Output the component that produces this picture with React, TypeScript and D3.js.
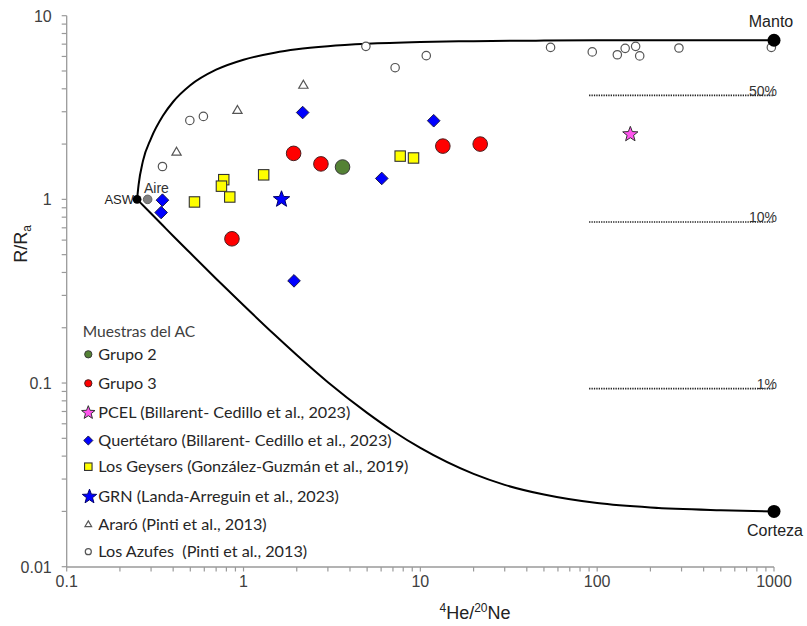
import React from "react";
import * as d3 from "d3";

// Sample groups: [4He/20Ne, R/Ra]
const grupo2: [number, number][] = [[3.63, 1.5]];
const grupo3: [number, number][] = [
  [1.92, 1.78], [2.74, 1.56], [13.4, 1.95], [21.8, 2.0], [0.86, 0.61],
];
const pcel: [number, number][] = [[154, 2.26]];
const queretaro: [number, number][] = [
  [0.348, 0.99], [0.342, 0.848], [2.16, 2.97], [11.9, 2.68], [6.05, 1.3], [1.93, 0.36],
];
const geysers: [number, number][] = [
  [0.528, 0.968], [0.773, 1.28], [0.75, 1.18], [0.836, 1.03], [1.3, 1.36], [7.69, 1.72], [9.15, 1.68],
];
const grn: [number, number][] = [[1.64, 1.0]];
const araro: [number, number][] = [[0.418, 1.82], [0.924, 3.07], [2.18, 4.21]];
const azufes: [number, number][] = [
  [0.348, 1.51], [0.497, 2.69], [0.593, 2.83], [4.92, 6.81], [7.2, 5.21], [10.8, 6.06],
  [54.5, 6.72], [93.8, 6.35], [130, 6.13], [144, 6.64], [165, 6.81], [174, 6.04],
  [290, 6.67], [966, 6.72],
];

// End members
const asw: [number, number] = [0.25, 1.0];
const aire: [number, number] = [0.287, 1.0];
const manto: [number, number] = [1000, 7.35];
const corteza: [number, number] = [1000, 0.02];

// Mixing curves ASW–Manto and ASW–Corteza
const upperCurveX = [0.25, 0.255, 0.27, 0.3, 0.35, 0.4, 0.5, 0.7, 1, 1.5, 2, 3, 5, 10, 20, 50, 100, 1000];
const upperCurveR = [1.0, 1.2, 1.62, 2.15, 2.85, 3.4, 4.18, 5.08, 5.76, 6.29, 6.56, 6.82, 7.03, 7.19, 7.27, 7.32, 7.34, 7.35];
const lowerCurveX = [0.25, 0.3, 0.35, 0.4, 0.5, 0.7, 1, 1.5, 2, 3, 5, 7, 10, 20, 30, 50, 100, 200, 500, 1000];
const lowerCurveR = [1.0, 0.837, 0.72, 0.632, 0.51, 0.37, 0.265, 0.183, 0.142, 0.101, 0.0688, 0.0548, 0.0443, 0.032, 0.0279, 0.0247, 0.0222, 0.021, 0.0203, 0.02];

// Mantle-fraction reference lines
const pctLabels = ["50%", "10%", "1%"];
const pctValues = [3.68, 0.753, 0.0933];
const pctStartX = 90;
const pctEndX = 1000;

// Axes
const xTickValues = [0.1, 1, 10, 100, 1000];
const xTickLabels = ["0.1", "1", "10", "100", "1000"];
const yTickValues = [0.01, 0.1, 1, 10];
const yTickLabels = ["0.01", "0.1", "1", "10"];

const legendTitle = "Muestras del AC";
const legendLabels = [
  "Grupo 2",
  "Grupo 3",
  "PCEL (Billarent- Cedillo et al., 2023)",
  "Quertétaro (Billarent- Cedillo et al., 2023)",
  "Los Geysers (González-Guzmán et al., 2019)",
  "GRN (Landa-Arreguin et al., 2023)",
  "Araró (Pinti et al., 2013)",
  "Los Azufes  (Pinti et al., 2013)",
];
const legendKinds = ["g2", "g3", "pcel", "diam", "sq", "grn", "tri", "circ"];

const W = 807;
const H = 626;

function starPath(cx: number, cy: number, R: number, r: number) {
  const pts: string[] = [];
  for (let i = 0; i < 10; i++) {
    const a = -Math.PI / 2 + (i * Math.PI) / 5;
    const rad = i % 2 === 0 ? R : r;
    pts.push(`${(cx + rad * Math.cos(a)).toFixed(2)},${(cy + rad * Math.sin(a)).toFixed(2)}`);
  }
  return "M" + pts.join("L") + "Z";
}

function Marker({ kind, cx, cy, s }: { kind: string; cx: number; cy: number; s: number }) {
  switch (kind) {
    case "g2":
      return <circle cx={cx} cy={cy} r={7.3 * s} fill="#548235" stroke="#3a3a3a" strokeWidth={1} />;
    case "g3":
      return <circle cx={cx} cy={cy} r={7.3 * s} fill="#ff0000" stroke="#4a2020" strokeWidth={1} />;
    case "pcel":
      return <path d={starPath(cx, cy, 8 * s, 3.4 * s)} fill="#ff55ee" stroke="#333" strokeWidth={1} />;
    case "grn":
      return <path d={starPath(cx, cy, 8.6 * s, 3.6 * s)} fill="#0000ff" stroke="#00006a" strokeWidth={1} />;
    case "diam": {
      const h = 6.3 * s;
      return (
        <path
          d={`M${cx},${cy - h}L${cx + h},${cy}L${cx},${cy + h}L${cx - h},${cy}Z`}
          fill="#0000ff"
          stroke="#1a1a4a"
          strokeWidth={1}
        />
      );
    }
    case "sq": {
      const h = 5.2 * s;
      return <rect x={cx - h} y={cy - h} width={2 * h} height={2 * h} fill="#ffff00" stroke="#333" strokeWidth={1.1} />;
    }
    case "tri": {
      const h = 4.4 * s;
      return (
        <path
          d={`M${cx},${cy - h}L${cx + h * 1.05},${cy + h * 0.8}L${cx - h * 1.05},${cy + h * 0.8}Z`}
          fill="#fff"
          stroke="#555"
          strokeWidth={1.2}
        />
      );
    }
    case "circ":
      return <circle cx={cx} cy={cy} r={4.2 * s} fill="#fff" stroke="#555" strokeWidth={1.2} />;
    default:
      return null;
  }
}

export default function App() {
  const x = d3.scaleLog().domain([0.1, 1000]).range([66.7, 774]);
  const y = d3.scaleLog().domain([0.01, 10]).range([566.7, 15.7]);

  const line = d3
    .line<[number, number]>()
    .x((d) => x(d[0]))
    .y((d) => y(d[1]))
    .curve(d3.curveMonotoneX);

  const upper = upperCurveX.map((v, i) => [v, upperCurveR[i]] as [number, number]);
  const lower = lowerCurveX.map((v, i) => [v, lowerCurveR[i]] as [number, number]);

  const xMinor = x.ticks();
  const yMinor = y.ticks();

  const axisColor = "#9a9a9a";
  const tickText = "#404040";
  const arial = "'Liberation Sans', Arial, sans-serif";
  const legendFont = "Lato, 'Open Sans', sans-serif";

  const groups: { kind: string; data: [number, number][] }[] = [
    { kind: "circ", data: azufes },
    { kind: "tri", data: araro },
    { kind: "sq", data: geysers },
    { kind: "diam", data: queretaro },
    { kind: "g3", data: grupo3 },
    { kind: "g2", data: grupo2 },
    { kind: "grn", data: grn },
    { kind: "pcel", data: pcel },
  ];

  const legendY = [354.3, 383.3, 412.7, 440.5, 466.7, 496.7, 524, 551.7];

  return (
    <svg
      width={W}
      height={H}
      viewBox={`0 0 ${W} ${H}`}
      style={{ position: "absolute", left: 0, top: 0, background: "#fff" }}
    >
      <rect width={W} height={H} fill="#fff" />

      {/* axes */}
      <line x1={66.7} x2={66.7} y1={15.7} y2={567} stroke={axisColor} strokeWidth={1.3} />
      <line x1={66.7} x2={774} y1={567} y2={567} stroke={axisColor} strokeWidth={1.3} />
      {yMinor.map((v, i) => (
        <line key={"yt" + i} x1={61.7} x2={66.7} y1={y(v)} y2={y(v)} stroke={axisColor} strokeWidth={1.2} />
      ))}
      {xMinor.map((v, i) => (
        <line key={"xt" + i} x1={x(v)} x2={x(v)} y1={567} y2={571.5} stroke={axisColor} strokeWidth={1.2} />
      ))}
      {yTickValues.map((v, i) => (
        <text key={"yl" + i} x={51.7} y={y(v) + 5.8} textAnchor="end" fontFamily={arial} fontSize={16} fill={tickText}>
          {yTickLabels[i]}
        </text>
      ))}
      {xTickValues.map((v, i) => (
        <text key={"xl" + i} x={x(v)} y={587} textAnchor="middle" fontFamily={arial} fontSize={16} fill={tickText}>
          {xTickLabels[i]}
        </text>
      ))}

      {/* axis titles */}
      <text x={475} y={619} textAnchor="middle" fontFamily={arial} fontSize={18} fill="#222">
        <tspan fontSize={12} dy={-7}>4</tspan>
        <tspan fontSize={18} dy={7}>He/</tspan>
        <tspan fontSize={12} dy={-7}>20</tspan>
        <tspan fontSize={18} dy={7}>Ne</tspan>
      </text>
      <text transform="translate(27,244) rotate(-90)" textAnchor="middle" fontFamily={arial} fontSize={18} fill="#222">
        R/R<tspan fontSize={12} dy={4}>a</tspan>
      </text>

      {/* mixing curves */}
      <path d={line(upper) || ""} fill="none" stroke="#000" strokeWidth={2} />
      <path d={line(lower) || ""} fill="none" stroke="#000" strokeWidth={2} />

      {/* mantle fraction lines */}
      {pctValues.map((v, i) => (
        <g key={"pct" + i}>
          <line
            x1={x(pctStartX)}
            x2={x(pctEndX)}
            y1={y(v)}
            y2={y(v)}
            stroke="#222"
            strokeWidth={1.7}
            strokeDasharray="1.3 1.1"
          />
          <text x={777} y={y(v) + 0.5} textAnchor="end" fontFamily={arial} fontSize={14} fill="#333">
            {pctLabels[i]}
          </text>
        </g>
      ))}

      {/* data */}
      {groups.map((g) =>
        g.data.map((d, i) => <Marker key={g.kind + i} kind={g.kind} cx={x(d[0])} cy={y(d[1])} s={1} />)
      )}

      {/* end members */}
      <text x={134} y={y(asw[1]) + 4.8} textAnchor="end" fontFamily={arial} fontSize={13} fill="#222">
        ASW
      </text>
      <circle cx={x(asw[0])} cy={y(asw[1])} r={4.4} fill="#000" />
      <circle cx={x(aire[0])} cy={y(aire[1])} r={4.3} fill="#808080" stroke="#666" strokeWidth={1} />
      <text x={144} y={193.3} fontFamily={arial} fontSize={14} fill="#333">
        Aire
      </text>
      <circle cx={x(manto[0])} cy={y(manto[1])} r={6.5} fill="#000" />
      <text x={771} y={27} textAnchor="middle" fontFamily={arial} fontSize={16} fill="#222">
        Manto
      </text>
      <circle cx={x(corteza[0])} cy={y(corteza[1])} r={6.5} fill="#000" />
      <text x={775} y={536} textAnchor="middle" fontFamily={arial} fontSize={16} fill="#222">
        Corteza
      </text>

      {/* legend */}
      <text x={82.7} y={337} fontFamily={legendFont} fontSize={15.6} fill="#404040">
        {legendTitle}
      </text>
      {legendLabels.map((lab, i) => (
        <g key={"lg" + i}>
          <Marker
            kind={legendKinds[i]}
            cx={legendKinds[i] === "grn" ? 89.5 : 88.3}
            cy={legendY[i]}
            s={legendKinds[i] === "grn" || legendKinds[i] === "pcel" ? 0.88 : legendKinds[i].startsWith("g") ? 0.5 : 0.72}
          />
          <text
            x={98.3}
            y={legendY[i] + 5.5}
            fontFamily={legendFont}
            fontSize={16.2}
            fill="#262626"
            style={{ whiteSpace: "pre" }}
          >
            {lab}
          </text>
        </g>
      ))}
    </svg>
  );
}
